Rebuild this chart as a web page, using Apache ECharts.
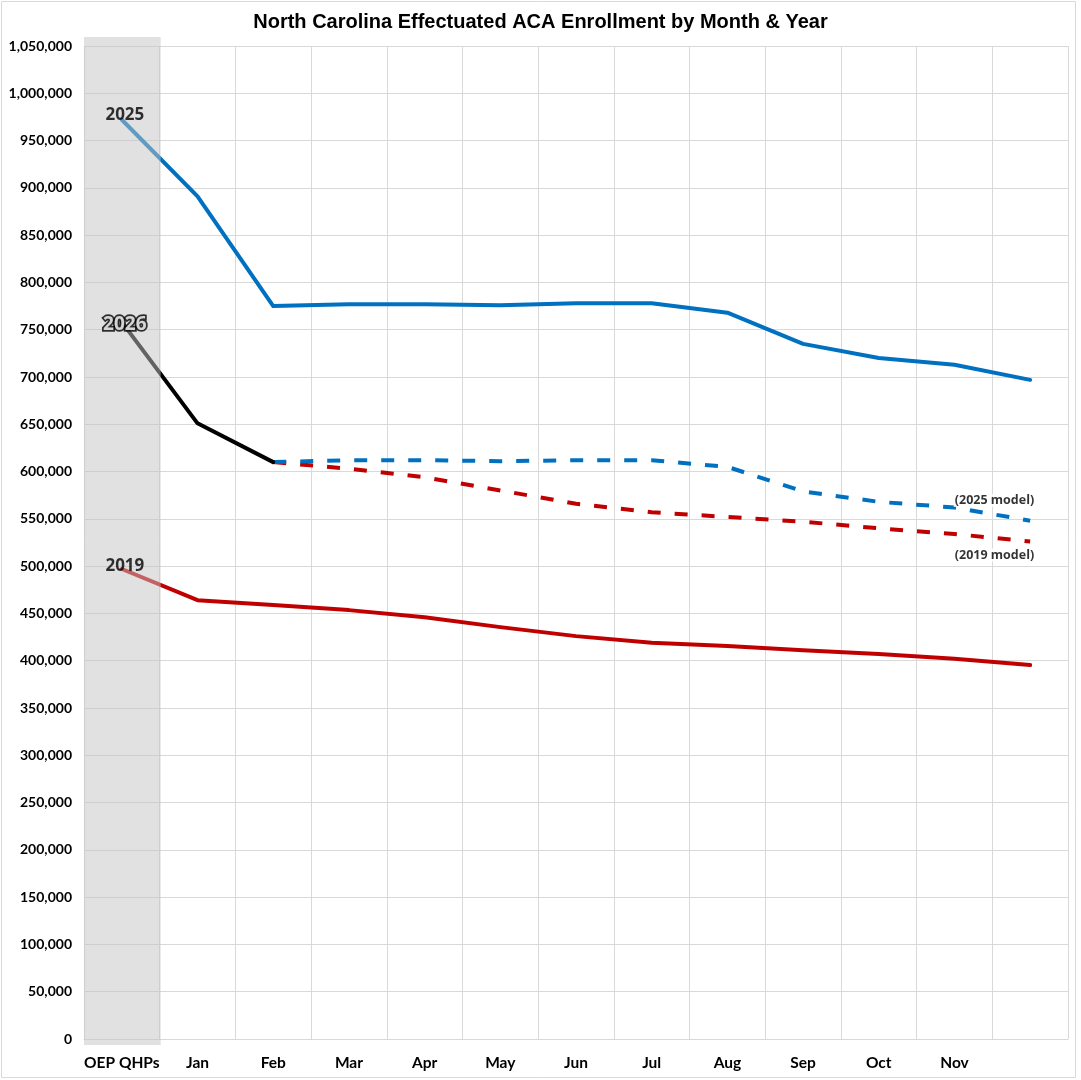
<!DOCTYPE html>
<html>
<head>
<meta charset="utf-8">
<script src="https://cdn.jsdelivr.net/npm/echarts@6/dist/echarts.min.js"></script>
<style>
  html, body { margin: 0; padding: 0; background: #fff; }
  #main { width: 1081px; height: 1080px; }
</style>
</head>
<body>
<div id="main"></div>
<script>
// categories (last one has no label in the original)
var months = ['OEP QHPs', 'Jan', 'Feb', 'Mar', 'Apr', 'May', 'Jun', 'Jul', 'Aug', 'Sep', 'Oct', 'Nov', ''];

var enroll2025 = [972000, 891000, 775000, 777000, 777000, 776000, 778000, 778000, 768000, 735000, 720000, 713000, 697000];
var enroll2026 = [758000, 651000, 610000, null, null, null, null, null, null, null, null, null, null];
var model2025 = [null, null, 610000, 612000, 612000, 611000, 612000, 612000, 605000, 579000, 568000, 562000, 548000];
var model2019 = [null, null, 610000, 603000, 594000, 580000, 566000, 557000, 552000, 547000, 540000, 534000, 526000];
var enroll2019 = [497000, 464000, 459000, 453500, 446000, 435500, 426000, 419000, 415500, 411000, 407000, 402000, 395500];

var yMax = 1050000;
var yStep = 50000;

var labelFont = 'Lato, "Open Sans", sans-serif';
var noteFont = '"Open Sans", Lato, sans-serif';

function solid(color) {
  return { color: color, width: 4, cap: 'round', join: 'round' };
}
function dashed(color) {
  return { color: color, width: 4, type: [13, 14], cap: 'butt', join: 'round' };
}

var option = {
  animation: false,
  backgroundColor: '#fff',
  title: {
    text: 'North Carolina Effectuated ACA Enrollment by Month & Year',
    left: 'center',
    top: 7,
    textStyle: { fontFamily: '"Liberation Sans", Arial, sans-serif', fontWeight: 'bold', fontSize: 20, color: '#000' }
  },
  graphic: [{
    type: 'rect',
    shape: { x: 1.5, y: 1.5, width: 1074, height: 1076 },
    style: { fill: 'none', stroke: '#d9d9d9', lineWidth: 1 },
    silent: true
  }],
  grid: { left: 84, right: 13, top: 46, bottom: 41, containLabel: false },
  xAxis: {
    type: 'category',
    data: months,
    boundaryGap: true,
    axisLine: { show: true, lineStyle: { color: '#d9d9d9' } },
    axisTick: { show: false },
    splitLine: { show: true, interval: 0, lineStyle: { color: '#d9d9d9', width: 1 } },
    axisLabel: { interval: 0, margin: 16, color: '#000', fontFamily: labelFont, fontWeight: 'bold', fontSize: 15.5 }
  },
  yAxis: {
    type: 'value',
    min: 0,
    max: yMax,
    interval: yStep,
    axisLine: { show: false },
    axisTick: { show: false },
    splitLine: { lineStyle: { color: '#d9d9d9', width: 1 } },
    axisLabel: {
      margin: 12,
      color: '#000',
      fontFamily: labelFont,
      fontWeight: 'bold',
      fontSize: 14,
      formatter: function (v) { return v.toLocaleString('en-US'); }
    }
  },
  series: [
    { name: '2019 model', type: 'line', data: model2019, z: 2, symbol: 'none', lineStyle: dashed('#c00000') },
    { name: '2025 model', type: 'line', data: model2025, z: 2, symbol: 'none', lineStyle: dashed('#0070c0') },
    { name: '2019', type: 'line', data: enroll2019, z: 2, symbol: 'none', lineStyle: solid('#c00000') },
    { name: '2025', type: 'line', data: enroll2025, z: 2, symbol: 'none', lineStyle: solid('#0070c0') },
    { name: '2026', type: 'line', data: enroll2026, z: 2, symbol: 'none', lineStyle: solid('#000000') },
    {
      // translucent band over the open-enrollment column
      type: 'custom',
      z: 3,
      silent: true,
      clip: false,
      data: [[0, 0]],
      renderItem: function (params, api) {
        var pt = api.coord([api.value(0), 0]);
        var w = api.size([1, 0])[0];
        var cs = params.coordSys;
        return {
          type: 'rect',
          shape: { x: pt[0] - w / 2, y: cs.y - 9, width: w + 1, height: cs.height + 15 },
          style: { fill: '#c3c3c3', opacity: 0.5 }
        };
      }
    },
    {
      type: 'scatter',
      zlevel: 1,
      z: 10,
      silent: true,
      symbolSize: 0,
      data: [
        { value: [months[0], enroll2025[0]], label: { formatter: '2025', offset: [3, -5], fontSize: 17 } },
        {
          value: [months[0], enroll2026[0]],
          label: { formatter: '2026', offset: [3, 2], fontSize: 19, color: '#fff', textBorderColor: '#000', textBorderWidth: 3.5 }
        },
        { value: [months[0], enroll2019[0]], label: { formatter: '2019', offset: [3, -3], fontSize: 17 } },
        { value: [months[11], model2025[11]], label: { formatter: '(2025 model)', offset: [40, -7], fontSize: 12.5, backgroundColor: '#fff', padding: [0, 1] } },
        { value: [months[11], model2019[11]], label: { formatter: '(2019 model)', offset: [40, 21], fontSize: 12.5, backgroundColor: '#fff', padding: [0, 1] } }
      ],
      label: {
        show: true,
        position: 'inside',
        color: '#000',
        fontFamily: noteFont,
        fontWeight: 'bold'
      }
    }
  ]
};

var myChart = echarts.init(document.getElementById('main'));
myChart.setOption(option);
</script>
</body>
</html>
